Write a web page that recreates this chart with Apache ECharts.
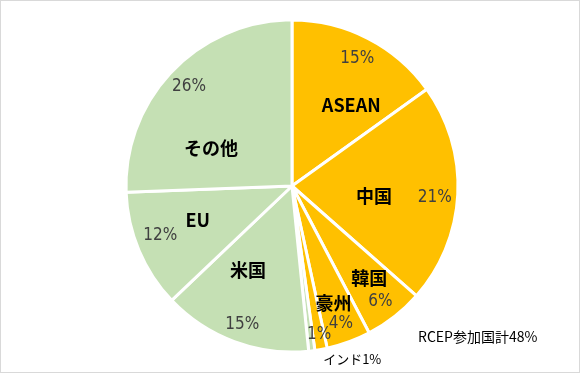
<!DOCTYPE html>
<html>
<head>
<meta charset="utf-8">
<script src="https://cdn.jsdelivr.net/npm/echarts@6/dist/echarts.min.js"></script>
<style>
html,body{margin:0;padding:0;background:#fff;}
#chart{width:580px;height:373px;box-sizing:border-box;border:1px solid #d9d9d9;}
</style>
</head>
<body>
<div id="chart"></div>
<script>
// Data (share of trade, %)
const names   = ['ASEAN', '中国', '韓国', '豪州', 'NZ', 'インド', '米国', 'EU', 'その他'];
const values  = [15.1, 21.4, 5.8, 4.3, 1.2, 0.6, 14.5, 11.5, 25.6];
const isRcep  = [true, true, true, true, true, false, false, false, false];
const showName = [true, true, true, true, false, true, true, true, true];
const rcepLabel = 'RCEP参加国計';

const ORANGE = '#FFC000', GREEN = '#C5E0B4';
const pct = v => Math.round(v) + '%';
const rcepTotal = values.reduce((s, v, i) => s + (isRcep[i] ? v : 0), 0);

// label fine offsets (style only)
const nameOffsets = {
  'ASEAN': [20, -4], '中国': [-4, 6], '韓国': [24, 25], '豪州': [12, 36],
  'NZ': [12, 64], 'インド': [50, 88], '米国': [-14, 4], 'EU': [-15, 1], 'その他': [-19, 22]
};
const pctOffsets = {
  '中国': [0, 4], '韓国': [0, 3], '豪州': [0, 3], '米国': [0, 4], 'EU': [0, -6]
};

const nameFont = {fontFamily: '"Noto Sans CJK JP", "Noto Sans", sans-serif', fontSize: 18, fontWeight: 'bold', color: '#000'};
const pctFont = {fontFamily: '"Liberation Sans Narrow", "DejaVu Sans Condensed", sans-serif', fontSize: 17, fontWeight: 'normal', color: '#404040'};

const mainData = names.map((n, i) => {
  const item = {
    name: n, value: values[i],
    itemStyle: {color: isRcep[i] ? ORANGE : GREEN},
    label: {show: true, offset: nameOffsets[n] || [0, 0]}
  };
  if (n === 'インド') {
    item.label.formatter = n + pct(values[i]);
    item.label.fontSize = 13;
    item.label.fontWeight = 'normal';
  } else if (!showName[i]) {
    // tiny slice: only its percent is shown
    item.label = Object.assign({}, pctFont, {show: true, offset: nameOffsets[n], formatter: pct(values[i])});
  }
  return item;
});

const pctData = names.map((n, i) => ({
  name: n, value: values[i],
  label: {show: showName[i] && n !== 'インド', offset: pctOffsets[n] || [0, 0]}
}));

const chart = echarts.init(document.getElementById('chart'), null, {renderer: 'canvas'});
chart.setOption({
  animation: false,
  title: {
    text: rcepLabel + Math.round(rcepTotal) + '%',
    left: 412, top: 324,
    textStyle: {fontFamily: '"Liberation Sans Narrow", "Noto Sans CJK JP", sans-serif', fontSize: 14, fontWeight: 'normal', color: '#000'}
  },
  series: [
    {
      type: 'pie',
      center: [291, 185],
      radius: [0, 166],
      startAngle: 90,
      clockwise: true,
      silent: true,
      avoidLabelOverlap: false,
      minShowLabelAngle: 0,
      labelLayout: {hideOverlap: false},
      itemStyle: {borderColor: '#fff', borderWidth: 3},
      label: Object.assign({position: 'inside', formatter: '{b}'}, nameFont),
      labelLine: {show: false},
      emphasis: {disabled: true},
      data: mainData
    },
    {
      type: 'pie',
      center: [291, 185],
      radius: [114, 166],
      startAngle: 90,
      clockwise: true,
      silent: true,
      avoidLabelOverlap: false,
      minShowLabelAngle: 0,
      labelLayout: {hideOverlap: false},
      itemStyle: {color: 'rgba(0,0,0,0)', borderWidth: 0},
      label: Object.assign({position: 'inside', formatter: p => pct(p.value)}, pctFont),
      labelLine: {show: false},
      emphasis: {disabled: true},
      data: pctData
    }
  ]
});
</script>
</body>
</html>
